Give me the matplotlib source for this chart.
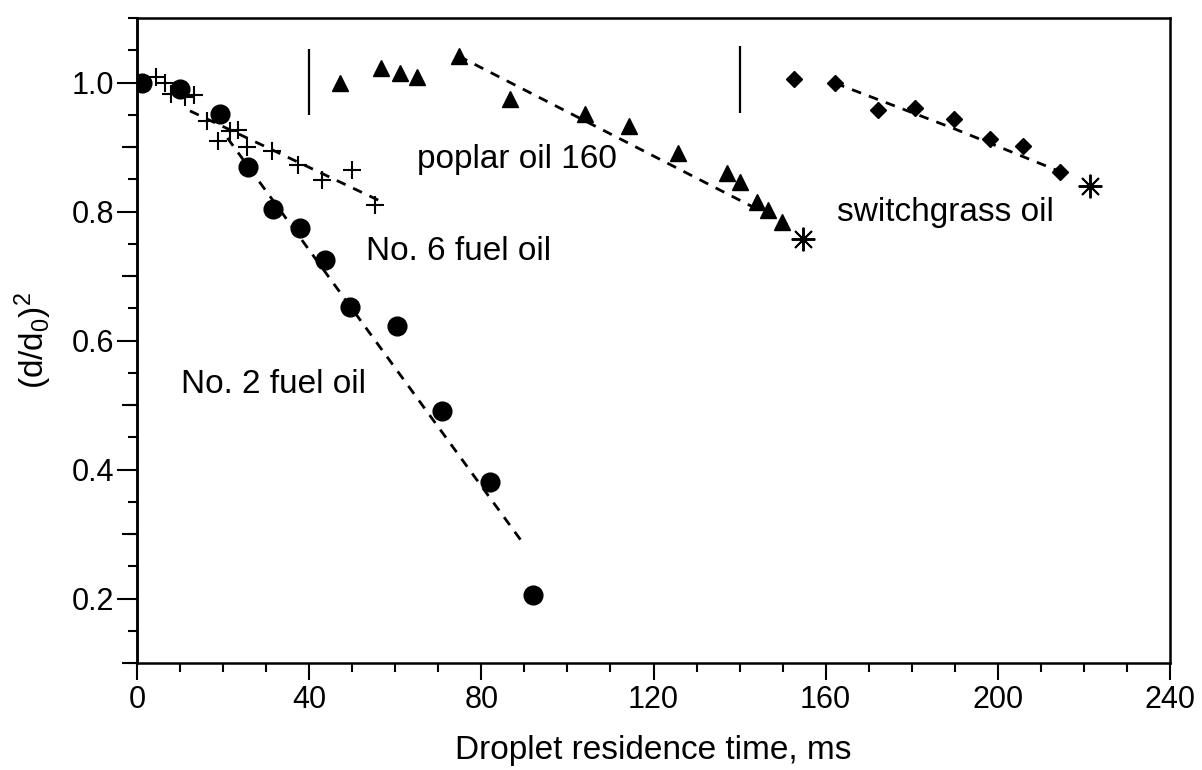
import numpy as np
import matplotlib
matplotlib.use("Agg")
from matplotlib import pyplot as plt
from matplotlib.ticker import MultipleLocator

plt.rcParams['font.family'] = ['Liberation Sans', 'DejaVu Sans']
plt.rcParams['mathtext.fontset'] = 'custom'
plt.rcParams['mathtext.rm'] = 'Liberation Sans'
plt.rcParams['mathtext.default'] = 'rm'

# No. 2 fuel oil (circles)
no2_t = [1.1, 10.0, 19.3, 25.9, 31.7, 37.9, 43.7, 49.5, 60.3, 70.8, 82.0, 92.1]
no2_y = [1.000, 0.990, 0.951, 0.869, 0.804, 0.774, 0.725, 0.652, 0.623, 0.491, 0.381, 0.205]
no2_fit_t = [21.0, 90.1]
no2_fit_y = [0.914, 0.282]

# No. 6 fuel oil (crosses)
no6_t = [4.5, 6.5, 8.0, 11.2, 13.2, 16.2, 18.9, 21.5, 23.5, 25.5, 31.3, 37.5, 42.9, 49.9, 55.3]
no6_y = [1.008, 0.999, 0.982, 0.978, 0.981, 0.940, 0.910, 0.925, 0.927, 0.900, 0.894, 0.872, 0.849, 0.864, 0.810]
no6_fit_t = [12.3, 57.2]
no6_fit_y = [0.956, 0.814]

# poplar oil 160 (triangles)
pop_t = [47.2, 56.6, 61.0, 65.0, 74.7, 86.7, 104.1, 114.4, 125.6, 137.0, 140.1, 144.1, 146.7, 149.8]
pop_y = [0.999, 1.022, 1.014, 1.008, 1.041, 0.974, 0.951, 0.933, 0.890, 0.859, 0.846, 0.814, 0.803, 0.784]
pop_fit_t = [74.7, 151.0]
pop_fit_y = [1.041, 0.780]

# switchgrass oil (diamonds)
sg_t = [152.6, 162.2, 172.2, 180.8, 189.7, 198.2, 205.9, 214.4]
sg_y = [1.006, 0.999, 0.958, 0.960, 0.944, 0.912, 0.902, 0.862]
sg_fit_t = [162.2, 190.0, 214.4]
sg_fit_y = [0.999, 0.928, 0.862]

# end points (asterisks) and start markers (vertical bars)
end_t = [154.7, 221.4]
end_y = [0.758, 0.839]
bar_t = [40.0, 140.0]
bar_lo = [0.950, 0.953]
bar_hi = [1.052, 1.057]

fig = plt.figure(figsize=(12.02, 7.7), dpi=100)
ax = fig.add_axes([137 / 1202, 1 - 663 / 770, (1170 - 137) / 1202, (663 - 18) / 770])

dash = dict(color='black', lw=2.0, ls=(0, (3.5, 3)))
ax.plot(no2_fit_t, no2_fit_y, **dash)
ax.plot(no6_fit_t, no6_fit_y, **dash)
ax.plot(pop_fit_t, pop_fit_y, **dash)
ax.plot(sg_fit_t, sg_fit_y, **dash)

ax.plot(no2_t, no2_y, 'o', color='black', ms=13.5)
ax.plot(no6_t, no6_y, '+', color='black', ms=13, mew=1.5)
ax.plot(pop_t, pop_y, '^', color='black', ms=12)
ax.plot(sg_t, sg_y, 'D', color='black', ms=8.5)
ax.plot(end_t, end_y, ls='none', marker=(8, 2, 0), color='black', ms=17, mew=1.4)
ax.vlines(bar_t, bar_lo, bar_hi, color='black', lw=1.6)

ax.text(65.0, 0.867, 'poplar oil 160', fontsize=24)
ax.text(53.3, 0.725, 'No. 6 fuel oil', fontsize=24)
ax.text(10.2, 0.519, 'No. 2 fuel oil', fontsize=24)
ax.text(162.6, 0.785, 'switchgrass oil', fontsize=24)

ax.set_xlim(0, 240)
ax.set_ylim(0.1, 1.1)
ax.xaxis.set_major_locator(MultipleLocator(40))
ax.xaxis.set_minor_locator(MultipleLocator(10))
ax.set_yticks([0.2, 0.4, 0.6, 0.8, 1.0])
ax.set_yticklabels(['0.2', '0.4', '0.6', '0.8', '1.0'])
ax.yaxis.set_minor_locator(MultipleLocator(0.05))

for s in ax.spines.values():
    s.set_linewidth(1.8)
ax.tick_params(which='major', direction='out', length=12, width=1.5, labelsize=22, pad=4)
ax.tick_params(axis='y', which='major', length=14.5, pad=2)
ax.tick_params(which='minor', direction='out', length=6.5, width=1.5)

mid = ax.secondary_yaxis('left')
mid.set_yticks([0.1, 0.3, 0.5, 0.7, 0.9], labels=[])
mid.tick_params(direction='out', length=11, width=1.5)
mid.spines['left'].set_linewidth(1.8)

ax.set_xlabel('Droplet residence time, ms', fontsize=24, labelpad=14)
ax.set_ylabel('(d/d$_0$)$^2$', fontsize=24)
ax.yaxis.set_label_coords(-0.08, 0.5)

fig.savefig('out.png', dpi=100)
